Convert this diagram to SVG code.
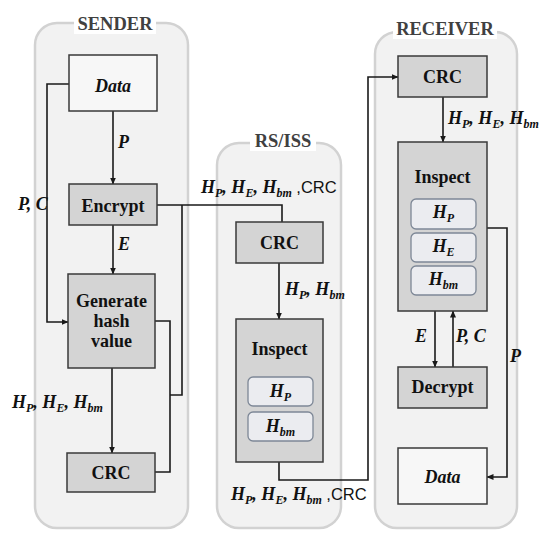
<svg xmlns="http://www.w3.org/2000/svg" width="550" height="545" viewBox="0 0 550 545">
<defs>
<marker id="ah" markerWidth="7" markerHeight="6" refX="6.5" refY="3" orient="auto" markerUnits="userSpaceOnUse">
<path d="M0,0 L7,3 L0,6 Z" fill="#1a1a1a"/>
</marker>
<style>
.panel{fill:#f2f2f2;stroke:#d2d2d2;stroke-width:2.5}
.title{font-family:'Liberation Serif','DejaVu Serif',serif;font-weight:700;font-size:18.5px;fill:#404040;text-anchor:middle}
.tbg{fill:#ffffff}
.box{stroke:#3a3a3a;stroke-width:1.5}
.white{fill:#f7f7f7}
.gray{fill:#d4d4d4}
.sub{fill:#ebecf0;stroke:#7d8796;stroke-width:1.3}
.bt{font-family:'Liberation Serif','DejaVu Serif',serif;font-weight:700;font-size:18px;fill:#111;text-anchor:middle}
.bi{font-style:italic}
.m{font-family:'Liberation Serif','DejaVu Serif',serif;font-weight:700;font-style:italic;font-size:18px;fill:#111}
.s{font-size:12px}
.sans{font-family:'Liberation Sans',sans-serif;font-style:normal;font-weight:400;font-size:16.5px}
.c{fill:none;stroke:#1a1a1a;stroke-width:1.6}
</style>
</defs>

<g id="panel-sender">
<rect class="panel" x="35" y="23" width="153" height="505" rx="22"/>
<rect class="tbg" x="74" y="14" width="82" height="20"/>
<text class="title" x="115" y="30">SENDER</text>
</g>
<g id="panel-rsiss">
<rect class="panel" x="217" y="143" width="124" height="385" rx="22"/>
<rect class="tbg" x="250" y="131" width="66" height="20"/>
<text class="title" x="283" y="147">RS/ISS</text>
</g>
<g id="panel-receiver">
<rect class="panel" x="375" y="32" width="142" height="496" rx="22"/>
<rect class="tbg" x="393" y="19" width="104" height="20"/>
<text class="title" x="445" y="35">RECEIVER</text>
</g>

<g id="connectors">
<path class="c" d="M113,111 V184" marker-end="url(#ah)"/>
<path class="c" d="M113,225 V274" marker-end="url(#ah)"/>
<path class="c" d="M112,368 V453" marker-end="url(#ah)"/>
<path class="c" d="M69,84 H47 V322 H68" marker-end="url(#ah)"/>
<path class="c" d="M155,321 H170 V472 H155"/>
<path class="c" d="M170,395 H182 V205"/>
<path class="c" d="M157,205 H282 V222"/>
<path class="c" d="M279,263 V319" marker-end="url(#ah)"/>
<path class="c" d="M279,462 V480 H368 V77 H398" marker-end="url(#ah)"/>
<path class="c" d="M443,97 V142" marker-end="url(#ah)"/>
<path class="c" d="M487,228 H507 V477 H487" marker-end="url(#ah)"/>
<path class="c" d="M435,311 V367" marker-end="url(#ah)"/>
<path class="c" d="M453,367 V311" marker-end="url(#ah)"/>
</g>

<g id="labels">
<text class="m" x="118" y="148">P</text>
<text class="m" x="118" y="250">E</text>
<text class="m" x="18" y="210">P, C</text>
<text class="m" x="12" y="408">H<tspan class="s" dy="4">P</tspan><tspan dy="-4">, H</tspan><tspan class="s" dy="4">E</tspan><tspan dy="-4">, H</tspan><tspan class="s" dy="4">bm</tspan></text>
<text class="m" x="201" y="193">H<tspan class="s" dy="4">P</tspan><tspan dy="-4">, H</tspan><tspan class="s" dy="4">E</tspan><tspan dy="-4">, H</tspan><tspan class="s" dy="4">bm</tspan><tspan class="sans" dy="-4"> ,CRC</tspan></text>
<text class="m" x="285" y="295">H<tspan class="s" dy="4">P</tspan><tspan dy="-4">, H</tspan><tspan class="s" dy="4">bm</tspan></text>
<text class="m" x="231" y="500">H<tspan class="s" dy="4">P</tspan><tspan dy="-4">, H</tspan><tspan class="s" dy="4">E</tspan><tspan dy="-4">, H</tspan><tspan class="s" dy="4">bm</tspan><tspan class="sans" dy="-4"> ,CRC</tspan></text>
<text class="m" x="448" y="124">H<tspan class="s" dy="4">P</tspan><tspan dy="-4">, H</tspan><tspan class="s" dy="4">E</tspan><tspan dy="-4">, H</tspan><tspan class="s" dy="4">bm</tspan></text>
<text class="m" x="415" y="342">E</text>
<text class="m" x="456" y="342">P, C</text>
<text class="m" x="510" y="362">P</text>
</g>

<g id="sender-data">
<rect class="box white" x="69" y="55" width="88" height="56"/>
<text class="bt bi" x="113" y="92">Data</text>
</g>
<g id="sender-encrypt">
<rect class="box gray" x="69" y="184" width="88" height="41"/>
<text class="bt" x="113" y="212">Encrypt</text>
</g>
<g id="sender-generate">
<rect class="box gray" x="68" y="274" width="87" height="94"/>
<text class="bt" x="111.5" y="307">Generate</text>
<text class="bt" x="111.5" y="327">hash</text>
<text class="bt" x="111.5" y="347">value</text>
</g>
<g id="sender-crc">
<rect class="box gray" x="67" y="453" width="88" height="39"/>
<text class="bt" x="111" y="479">CRC</text>
</g>

<g id="rs-crc">
<rect class="box gray" x="236" y="222" width="87" height="41"/>
<text class="bt" x="279.5" y="249">CRC</text>
</g>
<g id="rs-inspect">
<rect class="box gray" x="236" y="319" width="87" height="143"/>
<text class="bt" x="279.5" y="355">Inspect</text>
<rect class="sub" x="248" y="377" width="65" height="29" rx="5"/>
<text class="m" x="280.5" y="397" text-anchor="middle">H<tspan class="s" dy="4">P</tspan></text>
<rect class="sub" x="248" y="412" width="65" height="29" rx="5"/>
<text class="m" x="280.5" y="432" text-anchor="middle">H<tspan class="s" dy="4">bm</tspan></text>
</g>

<g id="rx-crc">
<rect class="box gray" x="398" y="56" width="89" height="41"/>
<text class="bt" x="442.5" y="83">CRC</text>
</g>
<g id="rx-inspect">
<rect class="box gray" x="398" y="142" width="89" height="169"/>
<text class="bt" x="442.5" y="183">Inspect</text>
<rect class="sub" x="411" y="199" width="65" height="30" rx="5"/>
<text class="m" x="443.5" y="218" text-anchor="middle">H<tspan class="s" dy="4">P</tspan></text>
<rect class="sub" x="411" y="233" width="65" height="29" rx="5"/>
<text class="m" x="443.5" y="252" text-anchor="middle">H<tspan class="s" dy="4">E</tspan></text>
<rect class="sub" x="411" y="266" width="65" height="29" rx="5"/>
<text class="m" x="443.5" y="285" text-anchor="middle">H<tspan class="s" dy="4">bm</tspan></text>
</g>
<g id="rx-decrypt">
<rect class="box gray" x="398" y="367" width="89" height="41"/>
<text class="bt" x="442.5" y="393">Decrypt</text>
</g>
<g id="rx-data">
<rect class="box white" x="398" y="448" width="89" height="56"/>
<text class="bt bi" x="442.5" y="483">Data</text>
</g>
</svg>
